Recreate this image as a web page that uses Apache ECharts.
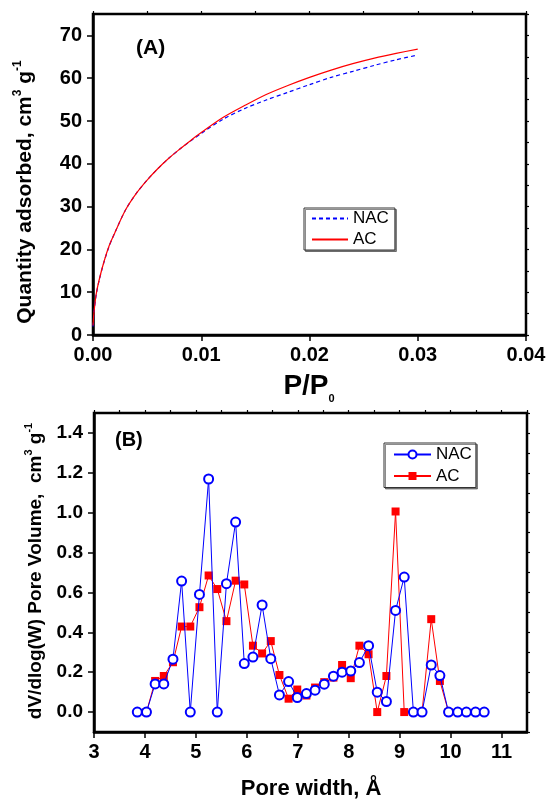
<!DOCTYPE html>
<html>
<head>
<meta charset="utf-8">
<script src="https://cdn.jsdelivr.net/npm/echarts@6/dist/echarts.min.js"></script>
<style>
html,body{margin:0;padding:0;background:#fff;}
#chart{width:549px;height:799px;}
</style>
</head>
<body>
<div id="chart"></div>
<script>
// ---------- Panel A: adsorption isotherm ----------
const relPressure = [0, 0.0001, 0.0003, 0.0006, 0.001, 0.0015, 0.002, 0.003, 0.004, 0.005, 0.006, 0.007, 0.008, 0.009, 0.010, 0.012, 0.014, 0.016, 0.018, 0.020, 0.022, 0.024, 0.026, 0.028, 0.030];
const nacIsotherm = [2.0, 5.4, 9.5, 13.1, 16.9, 20.8, 23.8, 29.2, 33.1, 36.2, 38.9, 41.3, 43.4, 45.3, 47.1, 50.4, 52.9, 54.9, 56.7, 58.5, 60.2, 61.6, 63.0, 64.3, 65.4];
const acIsotherm  = [2.2, 5.5, 9.6, 13.2, 17.0, 20.9, 23.8, 29.2, 33.1, 36.2, 38.9, 41.3, 43.4, 45.4, 47.3, 50.8, 53.6, 56.2, 58.3, 60.2, 61.9, 63.4, 64.7, 65.8, 66.8];
const xTicksA = [0, 0.01, 0.02, 0.03, 0.04];
const yTicksA = [0, 10, 20, 30, 40, 50, 60, 70];

// ---------- Panel B: pore size distribution ----------
const poreWidth = [3.85, 4.03, 4.20, 4.37, 4.55, 4.72, 4.89, 5.07, 5.25, 5.42, 5.60, 5.78, 5.95, 6.12, 6.30, 6.47, 6.64, 6.82, 6.99, 7.17, 7.34, 7.52, 7.70, 7.87, 8.04, 8.21, 8.39, 8.56, 8.74, 8.92, 9.09, 9.27, 9.44, 9.62, 9.79, 9.96, 10.14, 10.31, 10.49, 10.66];
const nacPore = [0, 0, 0.141, 0.141, 0.265, 0.657, 0, 0.59, 1.169, 0, 0.644, 0.953, 0.243, 0.276, 0.537, 0.268, 0.086, 0.153, 0.073, 0.093, 0.11, 0.14, 0.18, 0.2, 0.206, 0.248, 0.333, 0.1, 0.053, 0.51, 0.677, 0, 0, 0.236, 0.183, 0, 0, 0, 0, 0];
const acPore  = [null, 0, 0.156, 0.181, 0.25, 0.429, 0.429, 0.526, 0.685, 0.617, 0.456, 0.659, 0.64, 0.333, 0.294, 0.356, 0.186, 0.067, 0.113, 0.083, 0.123, 0.15, 0.173, 0.236, 0.17, 0.333, 0.29, 0, 0.181, 1.006, 0, 0, 0, 0.466, 0.156, 0, null, null, null, null];
const xTicksB = [3, 4, 5, 6, 7, 8, 9, 10, 11];
const yTicksB = [0, 0.2, 0.4, 0.6, 0.8, 1.0, 1.2, 1.4];

const FONT = '"Liberation Sans", Arial, Helvetica, sans-serif';
const BLUE = '#0000ff', RED = '#ff0000';

function pairs(xs, ys) { return xs.map((x, i) => [x, ys[i]]); }

const lblStyle = (size, margin, fmt) => ({
  show: true, fontSize: size, fontWeight: 'bold', color: '#000', fontFamily: FONT, margin: margin, formatter: fmt
});
const lineAx = { show: true, onZero: false, lineStyle: { color: '#000', width: 2.5 } };
const majorTick = (vals) => ({ show: true, inside: false, length: 6, customValues: vals, lineStyle: { color: '#000', width: 1.5 } });
const minorAxis = (grid, min, max, step) => ({
  gridIndex: grid, type: 'value', min: min, max: max, interval: step,
  axisLine: { show: false, onZero: false }, axisLabel: { show: false }, splitLine: { show: false },
  axisTick: { show: true, inside: false, length: 3, lineStyle: { color: '#000', width: 1.2 } }
});

const chart = echarts.init(document.getElementById('chart'), null, { renderer: 'canvas' });

const option = {
  animation: false,
  backgroundColor: '#fff',
  textStyle: { fontFamily: FONT },
  grid: [
    { left: 93, top: 14, width: 433, height: 321, containLabel: false, outerBoundsMode: 'none', show: true, borderColor: '#000', borderWidth: 2.5, backgroundColor: 'transparent' },
    { left: 94, top: 413, width: 433, height: 319, containLabel: false, outerBoundsMode: 'none', show: true, borderColor: '#000', borderWidth: 2.5, backgroundColor: 'transparent' }
  ],
  xAxis: [
    { gridIndex: 0, type: 'value', min: 0, max: 0.04, interval: 0.01,
      axisLine: lineAx, splitLine: { show: false },
      axisTick: majorTick(xTicksA),
      axisLabel: Object.assign(lblStyle(20, 10, v => v.toFixed(2)), { customValues: xTicksA }) },
    { gridIndex: 1, type: 'value', min: 3, max: 11.5, interval: 1,
      axisLine: lineAx, splitLine: { show: false },
      axisTick: majorTick(xTicksB),
      axisLabel: Object.assign(lblStyle(20, 10, v => String(v)), { customValues: xTicksB }) },
    minorAxis(1, 3, 11.5, 0.5),
    minorAxis(0, 0, 0.04, 0.005)
  ],
  yAxis: [
    { gridIndex: 0, type: 'value', min: 0, max: 75, interval: 10,
      axisLine: lineAx, splitLine: { show: false },
      axisTick: majorTick(yTicksA),
      axisLabel: Object.assign(lblStyle(20, 11, v => String(v)), { customValues: yTicksA }) },
    { gridIndex: 1, type: 'value', min: -0.1, max: 1.5, interval: 0.1,
      axisLine: lineAx, splitLine: { show: false },
      axisTick: majorTick(yTicksB),
      axisLabel: Object.assign(lblStyle(19, 11, v => v.toFixed(1)), { customValues: yTicksB }) },
    minorAxis(0, 0, 75, 5),
    minorAxis(1, -0.1, 1.5, 0.1)
  ],
  legend: [
    { show: true, orient: 'vertical', left: 304, top: 208, padding: [2, 6, 2, 7],
      itemWidth: 36, itemHeight: 10, itemGap: 4,
      data: ['NAC', 'AC'], borderColor: '#333', borderWidth: 1, backgroundColor: '#fff',
      shadowColor: 'rgba(0,0,0,0.45)', shadowOffsetX: 1.5, shadowOffsetY: 1.5, shadowBlur: 0,
      itemStyle: { opacity: 0 },
      textStyle: { fontSize: 17, color: '#000', fontFamily: FONT, lineHeight: 17 },
      selectedMode: false },
    { show: true, orient: 'vertical', left: 384, top: 443, padding: [3, 4, 3, 9],
      itemWidth: 37, itemHeight: 10, itemGap: 4.5,
      data: ['NAC-B', 'AC-B'], borderColor: '#333', borderWidth: 1, backgroundColor: '#fff',
      shadowColor: 'rgba(0,0,0,0.45)', shadowOffsetX: 1.5, shadowOffsetY: 1.5, shadowBlur: 0,
      formatter: n => n.replace('-B', ''),
      textStyle: { fontSize: 17, color: '#000', fontFamily: FONT, lineHeight: 17 },
      selectedMode: false }
  ],
  series: [
    { name: 'NAC', type: 'line', xAxisIndex: 0, yAxisIndex: 0, data: pairs(relPressure, nacIsotherm),
      symbol: 'none', smooth: 0.3, color: BLUE, lineStyle: { color: BLUE, width: 1.2, type: [4, 3] }, z: 3 },
    { name: 'AC', type: 'line', xAxisIndex: 0, yAxisIndex: 0, data: pairs(relPressure, acIsotherm),
      symbol: 'none', smooth: 0.3, color: RED, lineStyle: { color: RED, width: 1.2 }, z: 4 },
    { name: 'AC-B', type: 'line', xAxisIndex: 1, yAxisIndex: 1, data: pairs(poreWidth, acPore),
      symbol: 'rect', symbolSize: 8, color: RED, itemStyle: { color: RED },
      lineStyle: { color: RED, width: 1 }, connectNulls: false, z: 3 },
    { name: 'NAC-B', type: 'line', xAxisIndex: 1, yAxisIndex: 1, data: pairs(poreWidth, nacPore),
      symbol: 'emptyCircle', symbolSize: 9, color: BLUE, itemStyle: { color: BLUE, borderColor: BLUE, borderWidth: 1.2 },
      lineStyle: { color: BLUE, width: 1 }, z: 4 }
  ],
  graphic: [
    { type: 'text', left: 136, top: 38, style: { text: '(A)', font: 'bold 21px ' + FONT, fill: '#000' } },
    { type: 'text', left: 115, top: 430, style: { text: '(B)', font: 'bold 20px ' + FONT, fill: '#000' } },
    { type: 'text', x: 25, y: 192, rotation: Math.PI / 2,
      style: { text: '{n|Quantity adsorbed, cm}{s|3}{n| g}{s|-1}', align: 'center', verticalAlign: 'middle', fill: '#000',
        rich: { n: { fontSize: 21, fontWeight: 'bold', fontFamily: FONT, lineHeight: 27, fill: '#000' },
                s: { fontSize: 12, fontWeight: 'bold', fontFamily: FONT, lineHeight: 12, verticalAlign: 'top', fill: '#000' } } } },
    { type: 'text', x: 36, y: 571, rotation: Math.PI / 2,
      style: { text: '{n|dV/dlog(W) Pore Volume,  cm}{s|3}{n| g}{s|-1}', align: 'center', verticalAlign: 'middle', fill: '#000',
        rich: { n: { fontSize: 19, fontWeight: 'bold', fontFamily: FONT, lineHeight: 25, fill: '#000' },
                s: { fontSize: 11, fontWeight: 'bold', fontFamily: FONT, lineHeight: 11, verticalAlign: 'top', fill: '#000' } } } },
    { type: 'text', x: 309, y: 386,
      style: { text: '{n|P/P}{s|0}', align: 'center', verticalAlign: 'middle', fill: '#000',
        rich: { n: { fontSize: 28, fontWeight: 'bold', fontFamily: FONT, lineHeight: 36, fill: '#000' },
                s: { fontSize: 11, fontWeight: 'bold', fontFamily: FONT, lineHeight: 11, verticalAlign: 'bottom', fill: '#000' } } } },
    { type: 'text', x: 311, y: 789,
      style: { text: 'Pore width, Å', font: 'bold 22px ' + FONT, align: 'center', verticalAlign: 'middle', fill: '#000' } }
  ]
};
chart.setOption(option);
</script>
</body>
</html>
